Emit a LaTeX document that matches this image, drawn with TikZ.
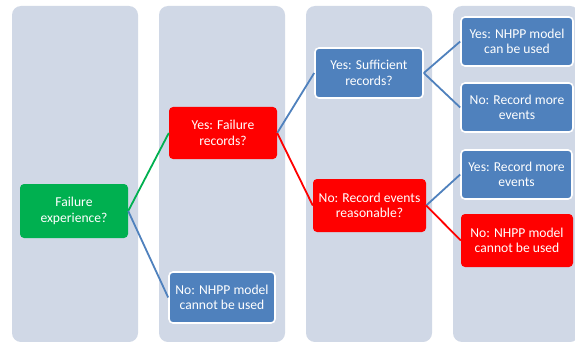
\documentclass[tikz,border=0pt]{standalone}
\usepackage{fontspec}
\setmainfont{Carlito}
\begin{document}
\begin{tikzpicture}[x=1pt,y=-1pt,
  panel/.style={fill=panelcol, draw=none, rounded corners=9pt},
  box/.style={rounded corners=4pt, text=white, align=center, inner sep=0pt,
    font=\fontsize{13.6}{15.5}\selectfont},
  bluebox/.style={box, fill=boxblue, draw=white, line width=1.6pt},
  redbox/.style={box, fill=boxred, draw=none},
  greenbox/.style={box, fill=boxgreen, draw=none},
  link/.style={line width=1.8pt}
]
\definecolor{panelcol}{HTML}{D0D8E6}
\definecolor{boxblue}{HTML}{4F81BD}
\definecolor{boxred}{HTML}{FF0000}
\definecolor{boxgreen}{HTML}{00B050}

\useasboundingbox (0,0) rectangle (575,342);
\fill[white] (0,0) rectangle (575,342);

% background columns
\begin{scope}
\clip (0,0) rectangle (575,342);
\fill[panel] (12,6) rectangle (138,342);
\fill[panel] (159,6) rectangle (285,342);
\fill[panel] (306,6) rectangle (432,342);
\fill[panel] (453,6) rectangle (579,342);
\end{scope}

% decision nodes
\node[greenbox, minimum width=108pt, minimum height=54pt] (exp) at (74,211) {Failure\\experience?};
\node[redbox, minimum width=108pt, minimum height=52pt] (rec) at (223,133) {Yes: Failure\\records?};
\node[bluebox, minimum width=106pt, minimum height=51pt] (nouse1) at (222,297.5) {No: NHPP model\\cannot be used};
\node[bluebox, minimum width=108pt, minimum height=50pt] (suff) at (369,73) {Yes: Sufficient\\records?};
\node[redbox, minimum width=113pt, minimum height=53pt] (reas) at (369.5,205.5) {No: Record events\\reasonable?};
\node[bluebox, minimum width=112pt, minimum height=49pt] (canuse) at (517,41.5) {Yes: NHPP model\\can be used};
\node[bluebox, minimum width=112pt, minimum height=49pt] (more1) at (517,107.5) {No: Record more\\events};
\node[bluebox, minimum width=111pt, minimum height=49pt] (more2) at (516.5,174.5) {Yes: Record more\\events};
\node[redbox, minimum width=112pt, minimum height=53pt] (nouse2) at (517,240.5) {No: NHPP model\\cannot be used};

% connectors
\draw[link, boxgreen] (exp.east) -- (rec.west);
\draw[link, boxblue] (exp.east) -- (nouse1.west);
\draw[link, boxblue] (rec.east) -- (suff.west);
\draw[link, boxred] (rec.east) -- (reas.west);
\draw[link, boxblue] (suff.east) -- (canuse.west);
\draw[link, boxblue] (suff.east) -- (more1.west);
\draw[link, boxblue] (reas.east) -- (more2.west);
\draw[link, boxred] (reas.east) -- (nouse2.west);
\end{tikzpicture}
\end{document}
